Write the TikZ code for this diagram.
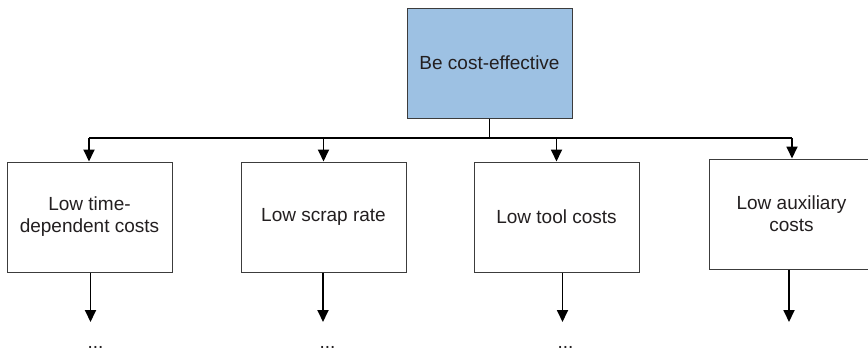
\documentclass[tikz,border=0pt]{standalone}
\usepackage{fontspec}
\setmainfont{Liberation Sans}
\usetikzlibrary{arrows.meta}
\definecolor{topblue}{RGB}{157,193,227}
\definecolor{boxline}{RGB}{60,60,60}
\definecolor{txt}{RGB}{35,31,32}
\tikzset{
  goalbox/.style={draw=boxline, line width=1pt, minimum width=165pt, minimum height=110pt,
    inner sep=2pt, align=center, text=txt, font=\fontsize{19}{22}\selectfont},
  conn/.style={draw=black, line width=1.8pt},
  arr/.style={conn, -{Triangle[length=12pt,width=11pt]}},
  dots/.style={text=txt, font=\fontsize{19}{22}\selectfont, anchor=base, inner sep=0pt}
}
\begin{document}
\begin{tikzpicture}[x=1pt,y=-1pt]
\clip (0,0) rectangle (868,351);
\fill[white] (0,0) rectangle (868,351);
\node[goalbox, fill=topblue] (top) at (489.5,63) {Be cost-effective};
\node[goalbox] (b1) at (89.5,217) {Low time-\\dependent costs};
\node[goalbox] (b2) at (323.5,217) {Low scrap rate};
\node[goalbox] (b3) at (556.5,217) {Low tool costs};
\node[goalbox] (b4) at (791.5,214) {Low auxiliary\\costs};
\coordinate (busL) at (89,138);
\coordinate (busR) at (792,138);
\draw[conn] (top.south) -- (top.south |- busL);
\draw[conn] (busL) -- (busR);
\draw[arr] (busL) -- (b1.north -| busL);
\draw[arr] (b2.north |- busL) -- (b2.north);
\draw[arr] (b3.north |- busL) -- (b3.north);
\draw[arr] (busR) -- (b4.north -| busR);
\coordinate (e1) at (90.5,322);
\coordinate (e2) at (323,322);
\coordinate (e3) at (562.5,322);
\coordinate (e4) at (789,322);
\draw[arr] (b1.south -| e1) -- (e1);
\draw[arr] (b2.south -| e2) -- (e2);
\draw[arr] (b3.south -| e3) -- (e3);
\draw[arr] (b4.south -| e4) -- (e4);
\node[dots] (d1) at (95.5,348.5) {...};
\node[dots] (d2) at (327.5,348.5) {...};
\node[dots] (d3) at (565.5,348.5) {...};
\end{tikzpicture}
\end{document}
